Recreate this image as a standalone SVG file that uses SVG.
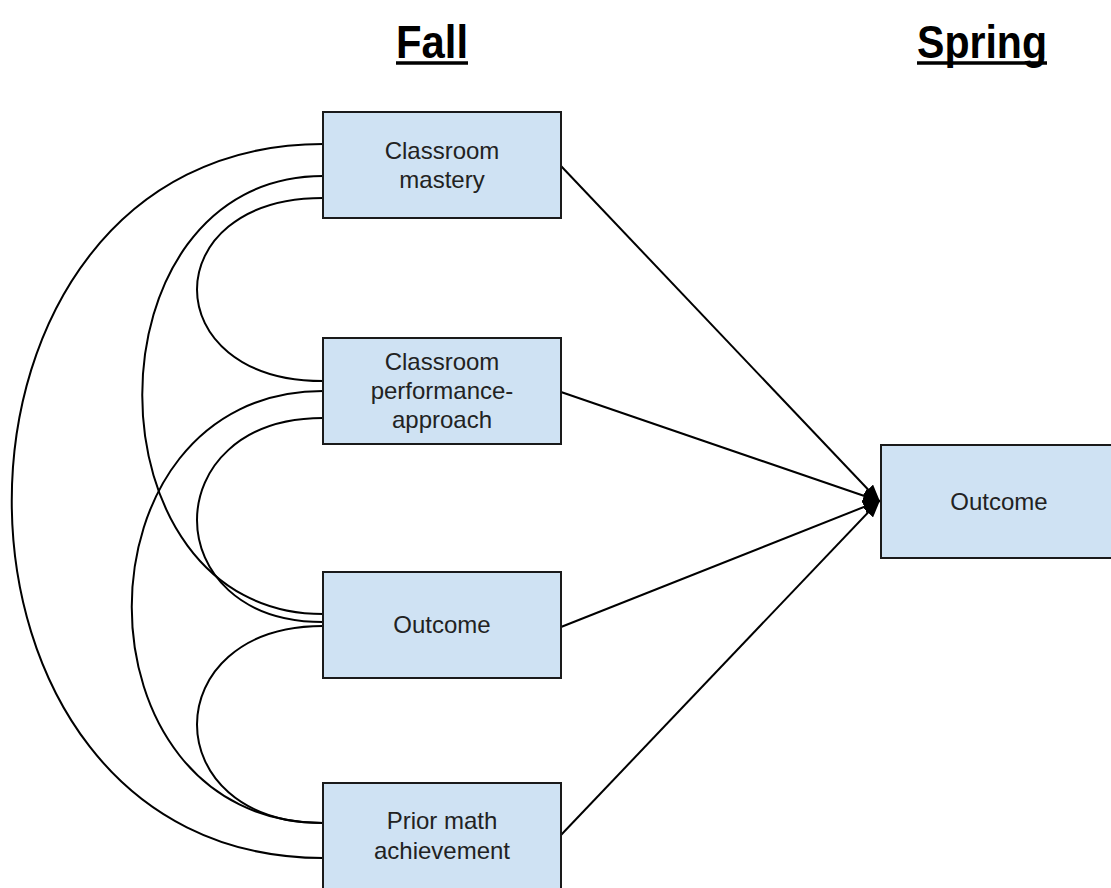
<svg xmlns="http://www.w3.org/2000/svg" width="1111" height="888" viewBox="0 0 1111 888">
<style>
.box{fill:#cfe2f3;stroke:#1a1a1a;stroke-width:2}
.lbl{font-family:"Liberation Sans",Arial,sans-serif;font-size:24px;fill:#222;text-anchor:middle}
.ttl{font-family:"Liberation Sans",Arial,sans-serif;font-size:46px;font-weight:bold;fill:#000}
.ul{stroke:#000;stroke-width:3.5}
.arc{fill:none;stroke:#000;stroke-width:2}
.arr{fill:none;stroke:#000;stroke-width:2;marker-end:url(#ah)}
</style>
<defs>
<marker id="ah" markerWidth="9" markerHeight="7" refX="8" refY="3.5" orient="auto" markerUnits="strokeWidth">
<path d="M0,0 L9,3.5 L0,7 z" fill="#000"/>
</marker>
</defs>
<rect width="1111" height="888" fill="#fff"/>
<g id="titles">
<text class="ttl" x="396" y="58" textLength="72" lengthAdjust="spacingAndGlyphs">Fall</text>
<line class="ul" x1="396" y1="63" x2="468" y2="63"/>
<text class="ttl" x="917" y="58" textLength="130" lengthAdjust="spacingAndGlyphs">Spring</text>
<line class="ul" x1="917" y1="63" x2="1047" y2="63"/>
</g>
<g id="connectors">
<path class="arc" d="M323,144 C-92,144 -92,858 323,858"/>
<path class="arc" d="M323,176 C82,176 82,614 323,614"/>
<path class="arc" d="M323,198 C155,198 155,381 323,381"/>
<path class="arc" d="M323,391 C68,391 68,823 323,823"/>
<path class="arc" d="M323,418 C155,418 155,622 323,622"/>
<path class="arc" d="M323,626 C155,626 155,823 323,823"/>
<line class="arr" x1="561" y1="166" x2="879" y2="501"/>
<line class="arr" x1="561" y1="392" x2="879" y2="501"/>
<line class="arr" x1="561" y1="627" x2="879" y2="501"/>
<line class="arr" x1="561" y1="835" x2="879" y2="501"/>
</g>
<g id="node-mastery">
<rect class="box" x="323" y="112" width="238" height="106"/>
<text class="lbl" x="442" y="159">Classroom</text>
<text class="lbl" x="442" y="188">mastery</text>
</g>
<g id="node-perfapproach">
<rect class="box" x="323" y="338" width="238" height="106"/>
<text class="lbl" x="442" y="370">Classroom</text>
<text class="lbl" x="442" y="399">performance-</text>
<text class="lbl" x="442" y="428">approach</text>
</g>
<g id="node-outcome-fall">
<rect class="box" x="323" y="572" width="238" height="106"/>
<text class="lbl" x="442" y="633">Outcome</text>
</g>
<g id="node-prior">
<rect class="box" x="323" y="783" width="238" height="106"/>
<text class="lbl" x="442" y="829">Prior math</text>
<text class="lbl" x="442" y="859">achievement</text>
</g>
<g id="node-outcome-spring">
<rect class="box" x="881" y="445" width="238" height="113"/>
<text class="lbl" x="999" y="510">Outcome</text>
</g>
</svg>
